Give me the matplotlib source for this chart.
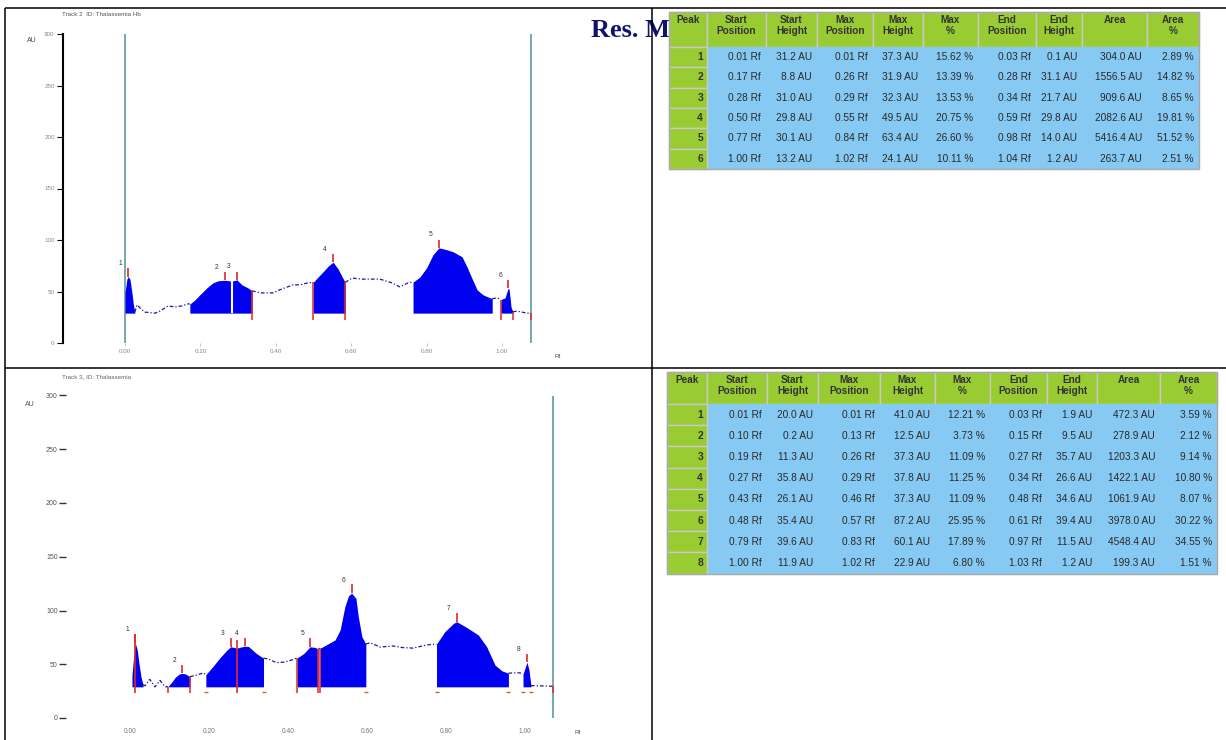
import matplotlib
matplotlib.use("Agg")
import matplotlib.pyplot as plt
from matplotlib.patches import Rectangle
import numpy as np

plt.rcParams["font.family"] = ["Liberation Sans", "DejaVu Sans"]

W, H = 1226, 740
BASE = 29.0  # AU level of the integration baseline

# ---- track 2 scan (top) ----
t2_rf = [0.000, 0.005, 0.008, 0.013, 0.018, 0.022, 0.026, 0.032, 0.040, 0.053,
         0.080, 0.093, 0.114, 0.133, 0.151, 0.167, 0.172, 0.186, 0.199, 0.217,
         0.233, 0.247, 0.265, 0.284, 0.297, 0.310, 0.326, 0.337, 0.358, 0.375,
         0.393, 0.410, 0.424, 0.446, 0.464, 0.485, 0.499, 0.512, 0.525, 0.540,
         0.552, 0.565, 0.575, 0.584, 0.602, 0.631, 0.676, 0.708, 0.729, 0.751,
         0.764, 0.782, 0.800, 0.817, 0.833, 0.853, 0.870, 0.894, 0.907, 0.920,
         0.934, 0.950, 0.974, 0.987, 0.997, 1.008, 1.016, 1.019, 1.024, 1.029,
         1.040, 1.066, 1.077]
t2_au = [49, 62, 64.5, 62, 50, 38, 30, 37, 34, 30,
         29, 31, 36, 35, 36, 38, 37.8, 42, 47, 53.5,
         58.4, 60.4, 60.9, 60.1, 61.3, 56.5, 53.5, 50.7, 48.7, 48.5,
         48.7, 51.6, 53.5, 56.5, 56.5, 58.4, 58.8, 64, 69, 75,
         78.5, 72, 65, 58.8, 63, 62, 62, 58.4, 54.5, 58.4,
         59.1, 64, 73, 85.7, 92.4, 90.6, 88.6, 83.7, 74, 63,
         51.6, 46.7, 43, 43.8, 42.2, 43.8, 53.1, 52, 35, 30.2,
         31, 29, 29]
t2_start = [0.000, 0.172, 0.284, 0.499, 0.764, 0.997]
t2_max = [0.008, 0.265, 0.297, 0.552, 0.833, 1.016]
t2_end = [0.026, 0.284, 0.337, 0.584, 0.974, 1.029]
t2_red_bounds = [0.337, 0.499, 0.584, 0.997, 1.029, 1.077]
t2_white_split = [0.284]
t2_front = [0.0, 1.077]

# ---- track 3 scan (bottom) ----
t3_rf = [0.005, 0.008, 0.013, 0.018, 0.023, 0.028, 0.033, 0.038, 0.050, 0.063,
         0.076, 0.089, 0.096, 0.105, 0.115, 0.125, 0.132, 0.140, 0.152, 0.170,
         0.185, 0.192, 0.210, 0.230, 0.245, 0.255, 0.270, 0.290, 0.300, 0.320,
         0.338, 0.350, 0.370, 0.390, 0.410, 0.423, 0.440, 0.456, 0.470, 0.476,
         0.481, 0.519, 0.532, 0.544, 0.553, 0.561, 0.572, 0.578, 0.587, 0.597,
         0.608, 0.633, 0.666, 0.690, 0.717, 0.752, 0.776, 0.797, 0.819, 0.827,
         0.852, 0.882, 0.903, 0.924, 0.941, 0.958, 0.970, 0.987, 0.995, 1.005,
         1.010, 1.015, 1.030, 1.071]
t3_au = [40, 52, 70, 64, 50, 38, 31, 30, 36, 29,
         35, 29, 29.2, 33, 38, 41, 41.5, 41, 38.5, 40,
         42, 40.3, 48, 57, 63, 66.3, 65, 66.8, 66.5, 60,
         55.6, 55, 51.5, 52, 54, 55.8, 60, 66.3, 65.5, 64,
         64.8, 72.6, 81.9, 103.6, 113.5, 116.2, 111.3, 94.3, 75.7, 68.8,
         70, 66, 67, 65.5, 65, 68, 68.8, 80.3, 88, 89.6,
         84.3, 77.2, 66.3, 49.3, 44, 41.6, 42, 42, 40.9, 51.9,
         45, 30.2, 30, 29.5]
t3_start = [0.005, 0.096, 0.192, 0.270, 0.423, 0.481, 0.776, 0.995]
t3_max = [0.013, 0.132, 0.255, 0.290, 0.456, 0.561, 0.827, 1.005]
t3_end = [0.033, 0.152, 0.270, 0.338, 0.476, 0.597, 0.958, 1.015]
t3_red_full = [0.013, 0.270]
t3_red_bounds = [0.096, 0.152, 0.423, 0.476, 0.481, 1.071]
t3_red_feet = [0.192, 0.338, 0.597, 0.776, 0.958, 0.995, 1.015]
t3_front = [1.071]

# ---- peak tables ----
tab1_peak = [1, 2, 3, 4, 5, 6]
tab1_start_pos = [0.01, 0.17, 0.28, 0.50, 0.77, 1.00]
tab1_start_h = [31.2, 8.8, 31.0, 29.8, 30.1, 13.2]
tab1_max_pos = [0.01, 0.26, 0.29, 0.55, 0.84, 1.02]
tab1_max_h = [37.3, 31.9, 32.3, 49.5, 63.4, 24.1]
tab1_max_pct = [15.62, 13.39, 13.53, 20.75, 26.60, 10.11]
tab1_end_pos = [0.03, 0.28, 0.34, 0.59, 0.98, 1.04]
tab1_end_h = [0.1, 31.1, 21.7, 29.8, 14.0, 1.2]
tab1_area = [304.0, 1556.5, 909.6, 2082.6, 5416.4, 263.7]
tab1_area_pct = [2.89, 14.82, 8.65, 19.81, 51.52, 2.51]

tab2_peak = [1, 2, 3, 4, 5, 6, 7, 8]
tab2_start_pos = [0.01, 0.10, 0.19, 0.27, 0.43, 0.48, 0.79, 1.00]
tab2_start_h = [20.0, 0.2, 11.3, 35.8, 26.1, 35.4, 39.6, 11.9]
tab2_max_pos = [0.01, 0.13, 0.26, 0.29, 0.46, 0.57, 0.83, 1.02]
tab2_max_h = [41.0, 12.5, 37.3, 37.8, 37.3, 87.2, 60.1, 22.9]
tab2_max_pct = [12.21, 3.73, 11.09, 11.25, 11.09, 25.95, 17.89, 6.80]
tab2_end_pos = [0.03, 0.15, 0.27, 0.34, 0.48, 0.61, 0.97, 1.03]
tab2_end_h = [1.9, 9.5, 35.7, 26.6, 34.6, 39.4, 11.5, 1.2]
tab2_area = [472.3, 278.9, 1203.3, 1422.1, 1061.9, 3978.0, 4548.4, 199.3]
tab2_area_pct = [3.59, 2.12, 9.14, 10.80, 8.07, 30.22, 34.55, 1.51]

headers = ["Peak", "Start\nPosition", "Start\nHeight", "Max\nPosition", "Max\nHeight",
           "Max\n%", "End\nPosition", "End\nHeight", "Area", "Area\n%"]

FILL = "#0000f0"
LINE = "#1a1aa0"
RED = "#e02828"
TEAL = "#5e9c9c"
GREEN = "#99cc33"
BLUE = "#86c9f2"

fig = plt.figure(figsize=(W / 100, H / 100), dpi=100)
page = fig.add_axes([0, 0, 1, 1])
page.set_xlim(0, W)
page.set_ylim(H, 0)
page.axis("off")


def px_axes(x0, y0, x1, y1):
    a = fig.add_axes([x0 / W, 1 - y1 / H, (x1 - x0) / W, (y1 - y0) / H])
    a.patch.set_alpha(0)
    return a


def draw_scan(ax, rf, au, starts, maxes, ends):
    rf = np.array(rf)
    au = np.array(au, dtype=float)
    inside = np.zeros(len(rf), bool)
    for s, e in zip(starts, ends):
        inside |= (rf > s) & (rf < e)
    ax.plot(rf, np.where(inside, np.nan, au), color=LINE, lw=0.9,
            ls=(0, (3, 1.6, 1, 1.6)), zorder=2)
    for k, (s, m, e) in enumerate(zip(starts, maxes, ends)):
        sel = (rf >= s) & (rf <= e)
        ax.fill_between(rf[sel], BASE, au[sel], color=FILL, lw=0, zorder=3)
        top = np.interp(m, rf, au)
        ax.vlines(m, top, top + 8, color=RED, lw=1.2, zorder=5)
        ax.annotate(str(k + 1), (m, top), xytext=(-8, 13), textcoords="offset pixels",
                    ha="center", va="center", fontsize=4.8, color="#333")
    return rf, au


# page frame
frame = dict(color="black", lw=1.1, solid_capstyle="butt")
page.plot([5, W], [8, 8], **frame)
page.plot([5, 5], [8, H], **frame)
page.plot([652, 652], [8, H], **frame)
page.plot([5, W], [368, 368], **frame)

page.text(591, 37, "Res. M", fontsize=19, fontweight="bold", color="#12126e",
          family="Liberation Serif", zorder=1)

# ---- top scan ----
ax1 = px_axes(63, 34, 570, 343)
ax1.set_xlim((63 - 125) / 377, (570 - 125) / 377)
ax1.set_ylim(0, 300)
for f in t2_front:
    ax1.axvline(f, color=TEAL, lw=1.2, zorder=1)
rf, au = draw_scan(ax1, t2_rf, t2_au, t2_start, t2_max, t2_end)
ax1.vlines(t2_white_split, BASE, np.interp(t2_white_split, rf, au), color="white", lw=1.5, zorder=4)
ax1.vlines(t2_red_bounds, BASE - 7, np.interp(t2_red_bounds, rf, au), color=RED, lw=1.1, zorder=5)
for s in ["top", "right", "bottom"]:
    ax1.spines[s].set_visible(False)
ax1.spines["left"].set_linewidth(1.5)
ax1.set_yticks(range(0, 301, 50))
ax1.tick_params(axis="y", length=4, width=0.8, labelsize=4.5, labelcolor="#888", pad=2)
ax1.set_xticks([0, 0.2, 0.4, 0.6, 0.8, 1.0])
ax1.set_xticklabels(["0.00", "0.20", "0.40", "0.60", "0.80", "1.00"])
ax1.tick_params(axis="x", length=2, width=0.5, color="#aaa", labelsize=4.5, labelcolor="#888", pad=2)
page.text(62, 15, "Track 2  ID: Thalassemia Hb", fontsize=4.5, color="#555", va="center")
page.text(32, 41, "AU", fontsize=5, color="#444", ha="center", va="center")
page.text(558, 357, "Rf", fontsize=4.5, color="#555", ha="center", va="center")

# ---- bottom scan ----
ax2 = px_axes(66, 395.5, 580, 718)
ax2.set_xlim((66 - 130) / 395, (580 - 130) / 395)
ax2.set_ylim(0, 300)
for f in t3_front:
    ax2.axvline(f, color=TEAL, lw=1.2, zorder=1)
rf, au = draw_scan(ax2, t3_rf, t3_au, t3_start, t3_max, t3_end)
ax2.vlines(t3_red_full, BASE - 6, np.interp(t3_red_full, rf, au) + 8, color=RED, lw=1.2, zorder=5)
ax2.vlines(t3_red_bounds, BASE - 6, np.interp(t3_red_bounds, rf, au), color=RED, lw=1.1, zorder=5)
ax2.plot(t3_red_feet, [BASE - 5] * len(t3_red_feet), ls="none", marker="_", ms=3,
         mew=1, color="#e06020", zorder=5)
for s in ["top", "right", "bottom", "left"]:
    ax2.spines[s].set_visible(False)
ax2.set_yticks(range(0, 301, 50))
ax2.tick_params(axis="y", length=5, width=1, color="#333", labelsize=5, labelcolor="#555", pad=1)
ax2.set_xticks([0, 0.2, 0.4, 0.6, 0.8, 1.0])
ax2.set_xticklabels(["0.00", "0.20", "0.40", "0.60", "0.80", "1.00"])
ax2.tick_params(axis="x", length=0, labelsize=4.8, labelcolor="#777", pad=7)
page.text(62, 377, "Track 3, ID: Thalassemia", fontsize=4.5, color="#666", va="center")
page.text(30, 404, "AU", fontsize=5, color="#555", ha="center", va="center")
page.text(578, 732, "Rf", fontsize=4.5, color="#555", ha="center", va="center")


# ---- tables ----
def draw_table(xe, y_top, head_h, row_h, peaks, cols):
    n = len(peaks)
    for j, name in enumerate(headers):
        page.add_patch(Rectangle((xe[j], y_top), xe[j + 1] - xe[j], head_h, fc=GREEN,
                                 ec="#c9c9c9", lw=1, zorder=3))
        page.text((xe[j] + xe[j + 1]) / 2, y_top + 3, name, ha="center", va="top",
                  fontsize=7.2, fontweight="bold", color="#333", linespacing=1.15, zorder=4)
    y0 = y_top + head_h
    page.add_patch(Rectangle((xe[1], y0), xe[-1] - xe[1], n * row_h, fc=BLUE, ec="none", zorder=3))
    for i in range(n):
        yy = y0 + i * row_h
        page.add_patch(Rectangle((xe[0], yy), xe[1] - xe[0], row_h, fc=GREEN,
                                 ec="#c9c9c9", lw=1, zorder=3))
        page.text(xe[1] - 4, yy + row_h / 2, str(peaks[i]), ha="right", va="center",
                  fontsize=7.4, fontweight="bold", color="#333", zorder=4)
        for j, c in enumerate(cols):
            page.text(xe[j + 2] - 5, yy + row_h / 2, c[i], ha="right", va="center",
                      fontsize=7.3, color="#2a2a2a", zorder=4)
    page.add_patch(Rectangle((xe[0], y_top), xe[-1] - xe[0], head_h + n * row_h, fc="none",
                             ec="#a8a8a8", lw=1, zorder=4))


def fmt(vals, spec, unit):
    return [format(v, spec) + unit for v in vals]


cols1 = [fmt(tab1_start_pos, ".2f", " Rf"), fmt(tab1_start_h, ".1f", " AU"),
         fmt(tab1_max_pos, ".2f", " Rf"), fmt(tab1_max_h, ".1f", " AU"),
         fmt(tab1_max_pct, ".2f", " %"), fmt(tab1_end_pos, ".2f", " Rf"),
         fmt(tab1_end_h, ".1f", " AU"), fmt(tab1_area, ".1f", " AU"),
         fmt(tab1_area_pct, ".2f", " %")]
cols2 = [fmt(tab2_start_pos, ".2f", " Rf"), fmt(tab2_start_h, ".1f", " AU"),
         fmt(tab2_max_pos, ".2f", " Rf"), fmt(tab2_max_h, ".1f", " AU"),
         fmt(tab2_max_pct, ".2f", " %"), fmt(tab2_end_pos, ".2f", " Rf"),
         fmt(tab2_end_h, ".1f", " AU"), fmt(tab2_area, ".1f", " AU"),
         fmt(tab2_area_pct, ".2f", " %")]

draw_table([669, 707, 766, 817, 873, 923, 978, 1036, 1082, 1147, 1199], 12, 35, 20.3,
           tab1_peak, cols1)
draw_table([667, 707, 767, 818, 880, 935, 990, 1047, 1097, 1160, 1217], 372, 32, 21.2,
           tab2_peak, cols2)

fig.savefig("out.png", dpi=100)
